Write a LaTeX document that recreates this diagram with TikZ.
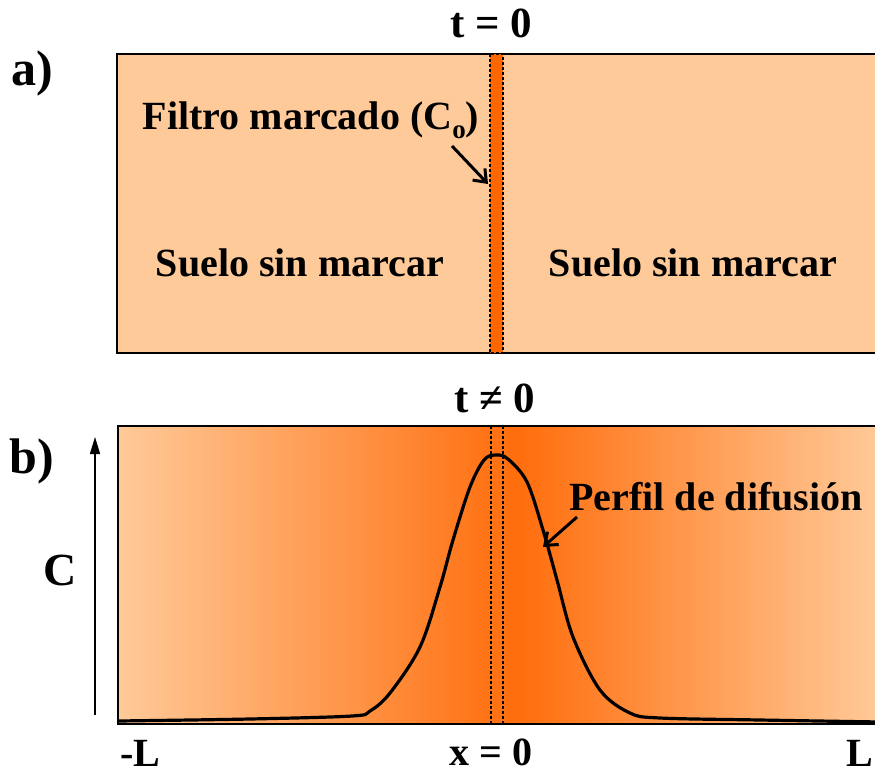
\documentclass[tikz,border=0pt]{standalone}
\usepackage{fontspec}
\setmainfont{Liberation Serif}
\usetikzlibrary{arrows.meta}
\definecolor{suelo}{HTML}{FFCA99}
\definecolor{filtro}{HTML}{FF6600}
\definecolor{difus}{HTML}{FF6D0C}

\begin{document}
\begin{tikzpicture}[
    x=1pt, y=-1pt,
    font=\fontsize{40}{40}\selectfont\bfseries,
    txt/.style={anchor=base, inner sep=0pt},
    panellbl/.style={txt, font=\fontsize{50}{50}\selectfont\bfseries},
    timelbl/.style={txt, font=\fontsize{43}{43}\selectfont\bfseries},
    stripbox/.style={draw, dash pattern=on 3pt off 2pt, line width=1.2pt},
    pointer/.style={-{Straight Barb[length=11pt,width=17pt]}, line width=3pt},
    axisarrow/.style={-{Triangle[length=17pt,width=10pt]}, line width=1.5pt}
]
\useasboundingbox (0,0) rectangle (875,774);

% a) t = 0
\fill[suelo] (117,54) rectangle (880,353);
\draw[line width=1.6pt] (880,54) -- (117,54) -- (117,353) -- (880,353);
\fill[filtro] (490,54) rectangle (503,353);
\draw[stripbox] (490,54) rectangle (503,353);
\node[panellbl] (la) at (32,85) {a)};
\node[timelbl] (t0) at (491,37) {t = 0};
\node[txt] (filtro) at (311,129)
  {Filtro marcado (C\raisebox{-9pt}{\fontsize{27}{27}\selectfont o})};
\coordinate (filtrotip) at (488,184);
\draw[pointer] (452,146) -- (filtrotip);
\node[txt] (suelo1) at (300,276) {Suelo sin marcar};
\node[txt] (suelo2) at (693,276) {Suelo sin marcar};

% b) t != 0
\shade[left color=suelo, right color=difus] (118,426) rectangle (516,724);
\shade[left color=difus, right color=suelo] (516,426) rectangle (880,724);
\draw[line width=1.6pt] (880,426) -- (118,426) -- (118,724) -- (880,724);
\draw[stripbox] (491,426) rectangle (503,724);
\draw[line width=3.2pt, line join=round]
  plot[smooth, tension=0.55] coordinates {
    (118,721) (250,719) (352,716) (370,711) (390,693) (420,647) (440,587)
    (453,540) (470,487) (484,460) (496,455) (508,459) (527,482) (543,530)
    (557,580) (573,637) (600,690) (630,713) (660,718) (760,720) (880,722)};
\node[panellbl] (lb) at (32,473) {b)};
\node[timelbl] (tn0) at (495,412) {t ≠ 0};
\node[txt] (perfil) at (716,510) {Perfil de difusión};
\coordinate (perfiltip) at (543,547);
\draw[pointer] (577,517) -- (perfiltip);

% ejes
\coordinate (cbase) at (95,715);
\coordinate (ctop) at (95,437);
\draw[axisarrow] (cbase) -- (ctop);
\node[txt, font=\fontsize{46}{46}\selectfont\bfseries] (clbl) at (60,585) {C};
\node[txt] (xneg) at (140,766) {-L};
\node[txt] (xcero) at (491,765) {x = 0};
\node[txt] (xpos) at (860,766) {L};
\end{tikzpicture}
\end{document}
